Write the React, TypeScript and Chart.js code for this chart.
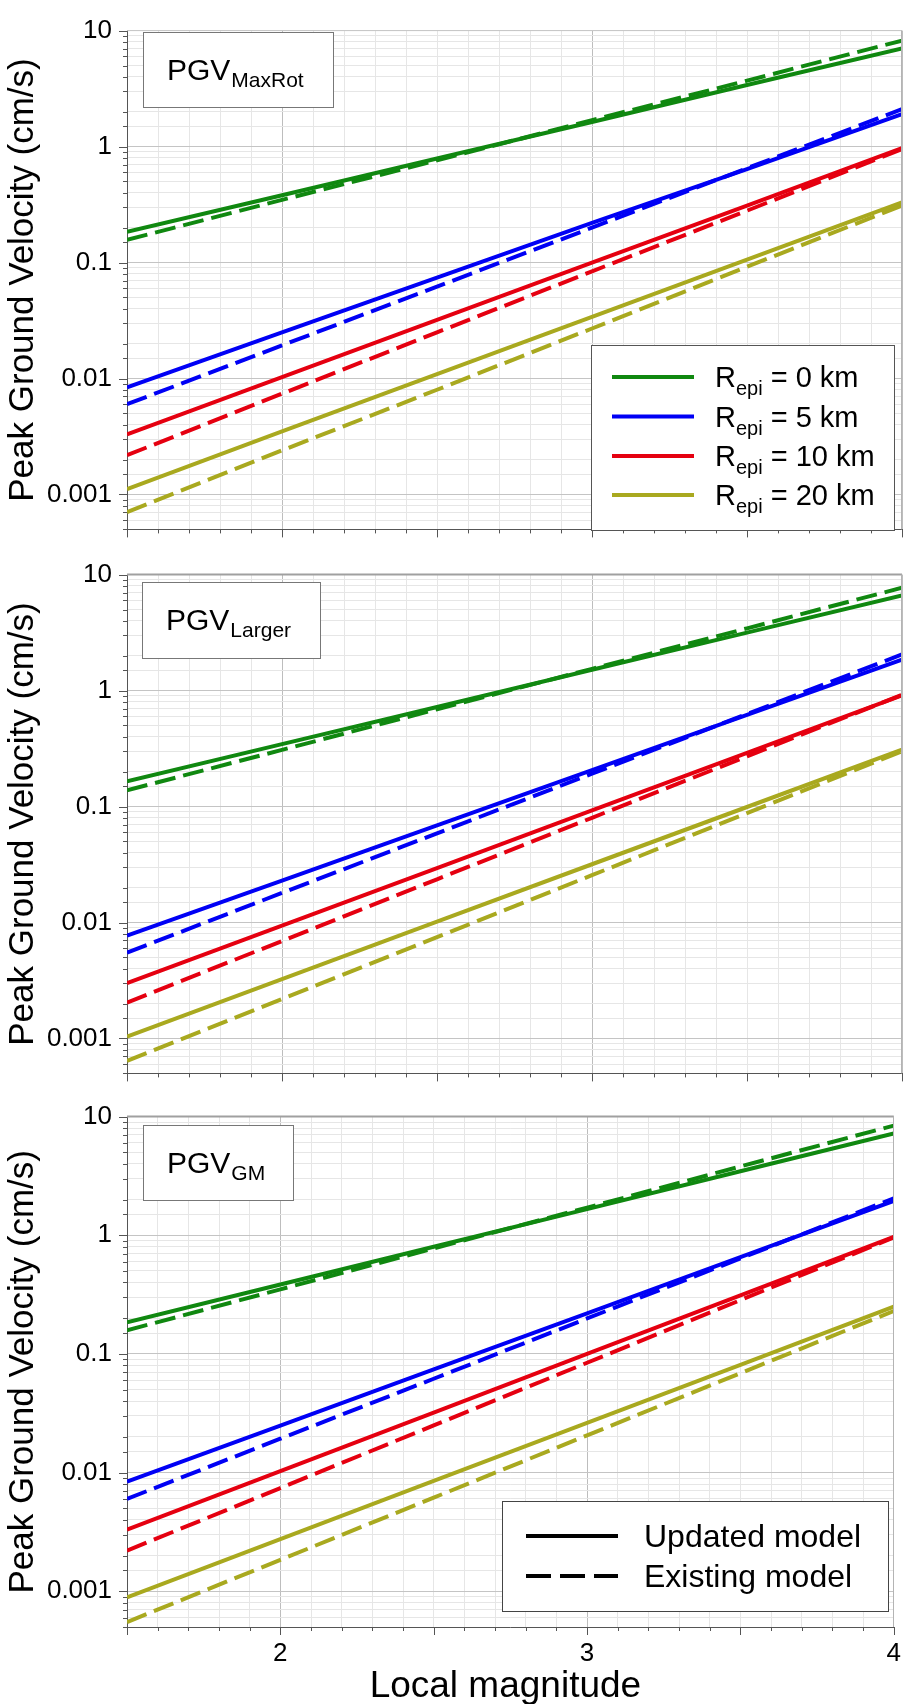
import React, { useEffect, useRef } from 'react';
import { Chart, registerables } from 'chart.js';

Chart.register(...registerables);

const FONT = "'Liberation Sans', Arial, Helvetica, sans-serif";

// ---------- data ----------
const magnitudes = [1.5, 2, 2.5, 3, 3.5, 4];
const xTickValues = [2, 3, 4];
const xTickLabels = ['2', '3', '4'];
const yTickValues = [0.001, 0.01, 0.1, 1, 10];
const yTickLabels = ['0.001', '0.01', '0.1', '1', '10'];
const distanceLabels = ['0 km', '5 km', '10 km', '20 km'];
const modelLabels = ['Updated model', 'Existing model'];
const seriesColors = ['#108810', '#0000f5', '#e50010', '#a9a91f'];

// PGV MaxRot
const maxRotUpdatedR0 = [0.184, 0.38, 0.79, 1.63, 3.4, 7.0];
const maxRotExistingR0 = [0.157, 0.347, 0.76, 1.69, 3.7, 8.2];
const maxRotUpdatedR5 = [0.0084, 0.025, 0.074, 0.22, 0.64, 1.9];
const maxRotExistingR5 = [0.006, 0.0193, 0.062, 0.2, 0.65, 2.1];
const maxRotUpdatedR10 = [0.0033, 0.0103, 0.032, 0.1, 0.31, 0.97];
const maxRotExistingR10 = [0.00218, 0.0074, 0.025, 0.084, 0.28, 0.95];
const maxRotUpdatedR20 = [0.00111, 0.0035, 0.0109, 0.034, 0.106, 0.33];
const maxRotExistingR20 = [0.000705, 0.0024, 0.008, 0.027, 0.092, 0.31];

// PGV Larger
const largerUpdatedR0 = [0.165, 0.345, 0.722, 1.51, 3.16, 6.6];
const largerExistingR0 = [0.138, 0.308, 0.69, 1.54, 3.44, 7.7];
const largerUpdatedR5 = [0.0077, 0.023, 0.0689, 0.206, 0.617, 1.85];
const largerExistingR5 = [0.0055, 0.018, 0.0587, 0.192, 0.628, 2.05];
const largerUpdatedR10 = [0.003, 0.0094, 0.0295, 0.0925, 0.29, 0.91];
const largerExistingR10 = [0.00204, 0.00693, 0.0236, 0.08, 0.271, 0.92];
const largerUpdatedR20 = [0.00104, 0.00325, 0.0102, 0.0318, 0.0991, 0.31];
const largerExistingR20 = [0.00064, 0.00219, 0.00748, 0.0256, 0.0877, 0.3];

// PGV GM
const gmUpdatedR0 = [0.185, 0.385, 0.8, 1.66, 3.46, 7.2];
const gmExistingR0 = [0.158, 0.35, 0.775, 1.71, 3.8, 8.4];
const gmUpdatedR5 = [0.0084, 0.0249, 0.0741, 0.22, 0.655, 1.95];
const gmExistingR5 = [0.006, 0.0193, 0.0618, 0.199, 0.638, 2.05];
const gmUpdatedR10 = [0.0033, 0.0103, 0.032, 0.1, 0.311, 0.97];
const gmExistingR10 = [0.0022, 0.00741, 0.025, 0.0843, 0.284, 0.96];
const gmUpdatedR20 = [0.00089, 0.00275, 0.0085, 0.0262, 0.081, 0.25];
const gmExistingR20 = [0.00055, 0.00184, 0.00615, 0.0206, 0.0688, 0.23];

const panelSeries = [
  {
    updated: [maxRotUpdatedR0, maxRotUpdatedR5, maxRotUpdatedR10, maxRotUpdatedR20],
    existing: [maxRotExistingR0, maxRotExistingR5, maxRotExistingR10, maxRotExistingR20],
  },
  {
    updated: [largerUpdatedR0, largerUpdatedR5, largerUpdatedR10, largerUpdatedR20],
    existing: [largerExistingR0, largerExistingR5, largerExistingR10, largerExistingR20],
  },
  {
    updated: [gmUpdatedR0, gmUpdatedR5, gmUpdatedR10, gmUpdatedR20],
    existing: [gmExistingR0, gmExistingR5, gmExistingR10, gmExistingR20],
  },
];

const panelNames = [
  ['PGV', 'MaxRot'],
  ['PGV', 'Larger'],
  ['PGV', 'GM'],
];

// ---------- layout (page pixels) ----------
const panelLayout = [
  { canvasTop: 0, canvasHeight: 560, xAxisHeight: 20, box: { x: 143, y: 32, w: 190, h: 75 }, topBorder: '#c8c8c8' },
  { canvasTop: 544, canvasHeight: 560, xAxisHeight: 20, box: { x: 142, y: 582, w: 178, h: 76 }, topBorder: '#a0a0a0' },
  { canvasTop: 1086, canvasHeight: 618, xAxisHeight: 77, box: { x: 143, y: 1125, w: 150, h: 75 }, topBorder: '#a0a0a0' },
];

const isDecade = (v: number) => Math.abs(Math.log10(v) - Math.round(Math.log10(v))) < 1e-6;
const isInt = (v: number) => Math.abs(v - Math.round(v)) < 1e-6;
const isHalf = (v: number) => Math.abs(v * 2 - Math.round(v * 2)) < 1e-6;

function line(ctx: CanvasRenderingContext2D, x1: number, y1: number, x2: number, y2: number) {
  ctx.beginPath();
  ctx.moveTo(x1, y1);
  ctx.lineTo(x2, y2);
  ctx.stroke();
}

function makeDecor(index: number) {
  const L = panelLayout[index];
  const off = L.canvasTop;
  return {
    id: 'decor' + index,
    afterDraw(chart: any) {
      const ctx: CanvasRenderingContext2D = chart.ctx;
      const { left, right, top, bottom } = chart.chartArea;
      const xs = chart.scales.x;
      const ys = chart.scales.y;
      ctx.save();
      ctx.setLineDash([]);
      // top and right frame
      ctx.lineWidth = index === 0 ? 1 : 2;
      ctx.strokeStyle = L.topBorder;
      line(ctx, left, top, right, top);
      ctx.lineWidth = 1;
      ctx.strokeStyle = '#b4b4b4';
      line(ctx, Math.round(right) - 0.5, top, Math.round(right) - 0.5, bottom);

      // tick marks
      ctx.strokeStyle = '#555';
      ctx.lineWidth = 1;
      ys.ticks.forEach((t: any) => {
        const y = Math.round(ys.getPixelForValue(t.value)) + 0.5;
        const len = isDecade(t.value) ? 8 : 4;
        line(ctx, left - len, y, left, y);
      });
      xs.ticks.forEach((t: any) => {
        const x = Math.round(xs.getPixelForValue(t.value)) + 0.5;
        const len = isHalf(t.value) ? 8 : 4;
        line(ctx, x, bottom, x, bottom + len);
      });

      // name box
      const b = L.box;
      ctx.fillStyle = '#ffffff';
      ctx.fillRect(b.x, b.y - off, b.w, b.h);
      ctx.strokeStyle = '#777';
      ctx.strokeRect(b.x + 0.5, b.y - off + 0.5, b.w, b.h);
      ctx.fillStyle = '#000';
      ctx.textAlign = 'left';
      ctx.textBaseline = 'alphabetic';
      ctx.font = `30px ${FONT}`;
      const [main, sub] = panelNames[index];
      ctx.fillText(main, b.x + 24, b.y - off + 48);
      const mw = ctx.measureText(main).width;
      ctx.font = `21px ${FONT}`;
      ctx.fillText(sub, b.x + 24 + mw + 1, b.y - off + 55);

      if (index === 0) {
        // distance legend
        const lb = { x: 591, y: 345, w: 303, h: 185 };
        ctx.fillStyle = '#fff';
        ctx.fillRect(lb.x, lb.y - off, lb.w, lb.h);
        ctx.strokeStyle = '#555';
        ctx.lineWidth = 1;
        ctx.strokeRect(lb.x + 0.5, lb.y - off + 0.5, lb.w, lb.h);
        const rows = [377, 416.5, 456, 495];
        rows.forEach((ry, i) => {
          const y = ry - off;
          ctx.strokeStyle = seriesColors[i];
          ctx.lineWidth = 4;
          line(ctx, 612, y, 694, y);
          ctx.fillStyle = '#000';
          ctx.font = `29px ${FONT}`;
          ctx.fillText('R', 715, y + 10);
          const rw = ctx.measureText('R').width;
          ctx.font = `20px ${FONT}`;
          ctx.fillText('epi', 715 + rw, y + 18);
          const ew = ctx.measureText('epi').width;
          ctx.font = `29px ${FONT}`;
          ctx.fillText(' = ' + distanceLabels[i], 715 + rw + ew, y + 10);
        });
      }
      if (index === 2) {
        // model legend
        const lb = { x: 502, y: 1501, w: 386, h: 110 };
        ctx.fillStyle = '#fff';
        ctx.fillRect(lb.x, lb.y - off, lb.w, lb.h);
        ctx.strokeStyle = '#444';
        ctx.lineWidth = 1;
        ctx.strokeRect(lb.x + 0.5, lb.y - off + 0.5, lb.w, lb.h);
        const rows = [1536, 1576];
        rows.forEach((ry, i) => {
          const y = ry - off;
          ctx.strokeStyle = '#000';
          ctx.lineWidth = 4;
          ctx.setLineDash(i === 1 ? [25, 9] : []);
          line(ctx, 526, y, 618, y);
          ctx.setLineDash([]);
          ctx.fillStyle = '#000';
          ctx.font = `32px ${FONT}`;
          ctx.fillText(modelLabels[i], 644, y + 11);
        });
        // x axis title
        ctx.font = `37px ${FONT}`;
        ctx.textAlign = 'center';
        ctx.fillStyle = '#000';
        ctx.fillText('Local magnitude', (left + right) / 2 - 5, 1697 - off);
      }
      ctx.restore();
    },
  };
}

function Panel({ index }: { index: number }) {
  const ref = useRef<HTMLCanvasElement>(null);
  const L = panelLayout[index];
  useEffect(() => {
    const series = panelSeries[index];
    const datasets: any[] = [];
    for (let i = 0; i < 4; i++) {
      datasets.push({
        label: `R_epi = ${distanceLabels[i]} (${modelLabels[0]})`,
        data: magnitudes.map((m, k) => ({ x: m, y: series.updated[i][k] })),
        borderColor: seriesColors[i],
        borderWidth: 4,
        pointRadius: 0,
        fill: false,
        tension: 0,
      });
      datasets.push({
        label: `R_epi = ${distanceLabels[i]} (${modelLabels[1]})`,
        data: magnitudes.map((m, k) => ({ x: m, y: series.existing[i][k] })),
        borderColor: seriesColors[i],
        borderWidth: 4,
        borderDash: [21, 8],
        pointRadius: 0,
        fill: false,
        tension: 0,
      });
    }
    const showX = index === 2;
    const chart = new Chart(ref.current as HTMLCanvasElement, {
      type: 'line',
      data: { datasets },
      options: {
        animation: false,
        responsive: false,
        devicePixelRatio: 1,
        events: [],
        layout: { padding: { top: 23, right: 10, left: 0, bottom: 0 } },
        plugins: { legend: { display: false }, tooltip: { enabled: false }, title: { display: false } },
        scales: {
          x: {
            type: 'linear',
            min: 1.5,
            max: 4,
            ticks: {
              stepSize: 0.1,
              autoSkip: false,
              display: showX,
              maxRotation: 0,
              padding: 11,
              color: '#000',
              font: { family: FONT, size: 26 },
              callback: (v: any) => {
                const i = xTickValues.findIndex((t) => Math.abs(t - Number(v)) < 1e-6);
                return i >= 0 ? xTickLabels[i] : '';
              },
            },
            grid: {
              drawTicks: false,
              lineWidth: 1,
              color: (c: any) => (c.tick && isInt(c.tick.value) ? '#bdbdbd' : '#e6e6e6'),
            },
            border: { display: true, color: '#555', width: 1 },
            afterFit: (s: any) => {
              s.height = L.xAxisHeight;
            },
          },
          y: {
            type: 'logarithmic',
            min: 0.0005,
            max: 10,
            ticks: {
              autoSkip: false,
              padding: 15,
              color: '#000',
              font: { family: FONT, size: 26 },
              callback: (v: any) => {
                const i = yTickValues.findIndex((t) => Math.abs(Math.log10(t) - Math.log10(Number(v))) < 1e-6);
                return i >= 0 ? yTickLabels[i] : '';
              },
            },
            grid: {
              drawTicks: false,
              lineWidth: 1,
              color: (c: any) => (c.tick && isDecade(c.tick.value) ? '#c4c4c4' : '#e6e6e6'),
            },
            border: { display: true, color: '#555', width: 1 },
            title: {
              display: true,
              text: 'Peak Ground Velocity (cm/s)',
              color: '#000',
              font: { family: FONT, size: 35, lineHeight: 1 },
              padding: { top: 6, bottom: 0 },
            },
            afterFit: (s: any) => {
              s.width = 127;
            },
          },
        },
      } as any,
      plugins: [makeDecor(index)],
    });
    return () => chart.destroy();
  }, [index]);
  return (
    <canvas
      ref={ref}
      width={912}
      height={L.canvasHeight}
      style={{ position: 'absolute', left: 0, top: L.canvasTop, width: 912, height: L.canvasHeight }}
    />
  );
}

export default function App() {
  return (
    <div style={{ position: 'absolute', left: 0, top: 0, width: 912, height: 1704, background: '#fff', overflow: 'hidden' }}>
      <Panel index={0} />
      <Panel index={1} />
      <Panel index={2} />
    </div>
  );
}
